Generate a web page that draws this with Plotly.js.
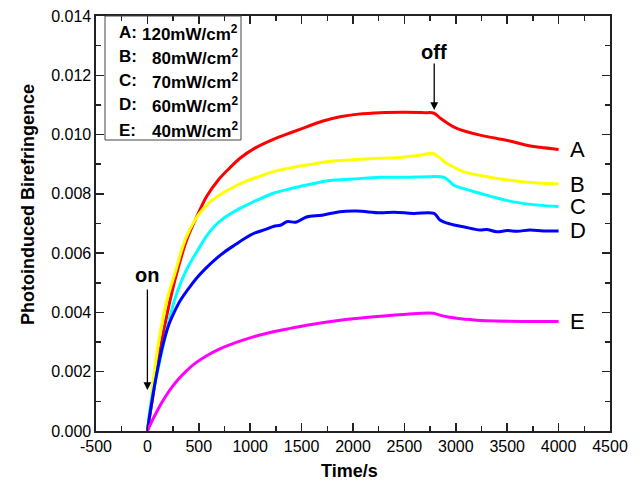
<!DOCTYPE html>
<html>
<head>
<meta charset="utf-8">
<script src="https://cdn.plot.ly/plotly-3.0.1.min.js"></script>
<style>html,body{margin:0;padding:0;background:#fff}#chart{width:641px;height:483px}</style>
</head>
<body>
<div id="chart"></div>
<script>
// ---- data ----
var seriesNames = ["A", "B", "C", "D", "E"];
var seriesColors = ["#ff0000", "#ffff00", "#00ffff", "#0000ff", "#ff00ff"];
var legendLetters = ["A:", "B:", "C:", "D:", "E:"];
var legendValues = ["120mW/cm<sup>2</sup>", "80mW/cm<sup>2</sup>", "70mW/cm<sup>2</sup>", "60mW/cm<sup>2</sup>", "40mW/cm<sup>2</sup>"];
var xTitle = "Time/s";
var yTitle = "Photoinduced Birefringence";

var tA = [0, 48, 96, 155, 220, 285, 382, 495, 577, 690, 800, 901, 1050, 1225, 1400, 1549, 1700, 1874, 2050, 2265, 2500, 2700, 2788, 2850, 2920, 3009, 3235, 3400, 3557, 3700, 3820, 4000];
var vA = [0, 0.00105, 0.00217, 0.0033, 0.0044, 0.00532, 0.00644, 0.00734, 0.00792, 0.00847, 0.00887, 0.0092, 0.00955, 0.00984, 0.01007, 0.01026, 0.01045, 0.0106, 0.01069, 0.01074, 0.01075, 0.01074, 0.01072, 0.01055, 0.01038, 0.01021, 0.00998, 0.00987, 0.00976, 0.00963, 0.00957, 0.0095];

var tB = [0, 35, 74, 123, 188, 268, 366, 463, 540, 625, 780, 949, 1100, 1225, 1400, 1549, 1776, 2000, 2262, 2450, 2587, 2680, 2749, 2790, 2850, 2911, 3000, 3073, 3250, 3398, 3550, 3722, 4000];
var vB = [0, 0.00105, 0.00217, 0.0033, 0.0044, 0.00532, 0.00644, 0.00712, 0.00748, 0.00777, 0.00812, 0.00841, 0.0086, 0.00875, 0.00888, 0.00897, 0.0091, 0.00915, 0.0092, 0.00923, 0.00928, 0.00932, 0.00937, 0.00935, 0.0092, 0.00903, 0.00887, 0.00875, 0.00861, 0.00852, 0.00845, 0.00838, 0.00833];

var tC = [0, 40, 108, 181, 262, 330, 405, 490, 570, 650, 739, 901, 1014, 1225, 1400, 1549, 1776, 2000, 2262, 2500, 2749, 2880, 2930, 2976, 3100, 3235, 3400, 3560, 3800, 4000];
var vC = [0, 0.00105, 0.00217, 0.0033, 0.0044, 0.00505, 0.0056, 0.0061, 0.00655, 0.0069, 0.00717, 0.00751, 0.0077, 0.00802, 0.00818, 0.0083, 0.00845, 0.0085, 0.00856, 0.00856, 0.00858, 0.00856, 0.00845, 0.0083, 0.00815, 0.00802, 0.00786, 0.00773, 0.00762, 0.00757];

var tD = [0, 30, 57, 100, 150, 210, 260, 320, 400, 480, 560, 658, 750, 852, 950, 1047, 1150, 1225, 1300, 1355, 1450, 1549, 1700, 1874, 2036, 2262, 2400, 2587, 2788, 2846, 2950, 3073, 3235, 3300, 3398, 3500, 3600, 3722, 3850, 4000];
var vD = [0, 0.0007, 0.00127, 0.0021, 0.0029, 0.0036, 0.004, 0.0044, 0.0048, 0.00516, 0.00546, 0.00578, 0.00604, 0.00628, 0.0065, 0.00668, 0.0068, 0.0069, 0.00695, 0.00706, 0.00705, 0.00722, 0.00728, 0.0074, 0.00742, 0.00736, 0.00738, 0.00734, 0.00734, 0.00712, 0.00698, 0.00689, 0.00678, 0.0068, 0.00672, 0.00676, 0.00674, 0.00678, 0.00675, 0.00675];

var tE = [0, 40, 90, 139, 200, 250, 301, 380, 463, 577, 700, 850, 1014, 1225, 1400, 1549, 1874, 2100, 2300, 2522, 2781, 2850, 3009, 3200, 3398, 4000];
var vE = [0, 0.0003, 0.00064, 0.00095, 0.00129, 0.00153, 0.00175, 0.00203, 0.00228, 0.00254, 0.00276, 0.00297, 0.00316, 0.00335, 0.00347, 0.00357, 0.00374, 0.00382, 0.00388, 0.00394, 0.00397, 0.0039, 0.0038, 0.00374, 0.00371, 0.00369];

var xTickVals = [-500, 0, 500, 1000, 1500, 2000, 2500, 3000, 3500, 4000, 4500];
var yTickVals = [0, 0.002, 0.004, 0.006, 0.008, 0.010, 0.012, 0.014];

// ---- build ----
var times = [tA, tB, tC, tD, tE];
var vals = [vA, vB, vC, vD, vE];
var FONT = "Liberation Sans, Arial, Helvetica, sans-serif";

var traces = seriesNames.map(function (n, i) {
  return {x: times[i], y: vals[i], type: "scatter", mode: "lines", name: n,
          line: {color: seriesColors[i], width: 3, shape: "spline", smoothing: 1}, showlegend: false, hoverinfo: "skip"};
});

var W = 641, H = 483, ML = 96, MR = 31, MT = 16, MB = 52;
var PW = W - ML - MR, PH = H - MT - MB;
function px(x) { return (x - ML) / PW; }
function py(y) { return (H - MB - y) / PH; }

var annotations = [];
// end labels A..E
seriesNames.forEach(function (n, i) {
  annotations.push({x: times[i][times[i].length - 1], y: vals[i][vals[i].length - 1], xref: "x", yref: "y",
    text: n, showarrow: false, xanchor: "left", yanchor: "middle", xshift: 9,
    font: {family: FONT, size: 22, color: "#000"}});
});
// legend box rows
var rowY = [32.5, 56.5, 81, 105, 130];
legendLetters.forEach(function (l, i) {
  annotations.push({x: px(117), y: py(rowY[i]), xref: "paper", yref: "paper", text: "<b>" + l + "</b>",
    showarrow: false, xanchor: "left", yanchor: "middle", font: {family: FONT, size: 17, color: "#000"}});
  annotations.push({x: px(240), y: py(rowY[i]), xref: "paper", yref: "paper", text: "<b>" + legendValues[i] + "</b>",
    showarrow: false, xanchor: "right", yanchor: "middle", font: {family: FONT, size: 17, color: "#000"}});
});
// axis titles
annotations.push({x: px(349), y: py(471), xref: "paper", yref: "paper", text: "<b>" + xTitle + "</b>",
  showarrow: false, xanchor: "center", yanchor: "middle", font: {family: FONT, size: 18, color: "#000"}});
annotations.push({x: px(28), y: py(205), xref: "paper", yref: "paper", text: "<b>" + yTitle + "</b>", textangle: -90,
  showarrow: false, xanchor: "center", yanchor: "middle", font: {family: FONT, size: 18, color: "#000"}});
// on / off
annotations.push({x: 0, y: 0.00526, xref: "x", yref: "y", text: "<b>on</b>", showarrow: false,
  font: {family: FONT, size: 20, color: "#000"}});
annotations.push({x: 0, y: 0.00138, ax: 0, ay: 0.00482, xref: "x", yref: "y", axref: "x", ayref: "y", text: "",
  showarrow: true, arrowhead: 2, arrowsize: 1.2, arrowwidth: 1.3, arrowcolor: "#000"});
annotations.push({x: 2790, y: 0.01278, xref: "x", yref: "y", text: "<b>off</b>", showarrow: false,
  font: {family: FONT, size: 20, color: "#000"}});
annotations.push({x: 2790, y: 0.01083, ax: 2790, ay: 0.01245, xref: "x", yref: "y", axref: "x", ayref: "y", text: "",
  showarrow: true, arrowhead: 2, arrowsize: 1.2, arrowwidth: 1.3, arrowcolor: "#000"});

var axisCommon = {
  showgrid: false, zeroline: false, showline: true, linecolor: "#222", linewidth: 1.6,
  mirror: "ticks", ticks: "inside", ticklen: 8, tickwidth: 1.5, tickcolor: "#222",
  tickfont: {family: FONT, size: 16, color: "#000"}
};

var layout = {
  width: W, height: H,
  margin: {l: ML, r: MR, t: MT, b: MB, pad: 0},
  paper_bgcolor: "#fff", plot_bgcolor: "#fff",
  showlegend: false,
  xaxis: Object.assign({}, axisCommon, {
    range: [-500, 4500], tickvals: xTickVals, ticktext: xTickVals.map(String),
    minor: {ticks: "inside", ticklen: 5, tickwidth: 1.5, tickcolor: "#222", dtick: 250, tick0: 0}
  }),
  yaxis: Object.assign({}, axisCommon, {
    range: [0, 0.014], tickvals: yTickVals, ticktext: yTickVals.map(function (v) { return v.toFixed(3); }),
    minor: {ticks: "inside", ticklen: 5, tickwidth: 1.5, tickcolor: "#222", dtick: 0.001, tick0: 0}
  }),
  annotations: annotations,
  shapes: [{type: "rect", xref: "paper", yref: "paper", x0: px(105), x1: px(241), y0: py(140), y1: py(16),
    line: {color: "#444", width: 1}, fillcolor: "rgba(0,0,0,0)"}]
};

Plotly.newPlot("chart", traces, layout, {displayModeBar: false, staticPlot: true});
</script>
</body>
</html>
